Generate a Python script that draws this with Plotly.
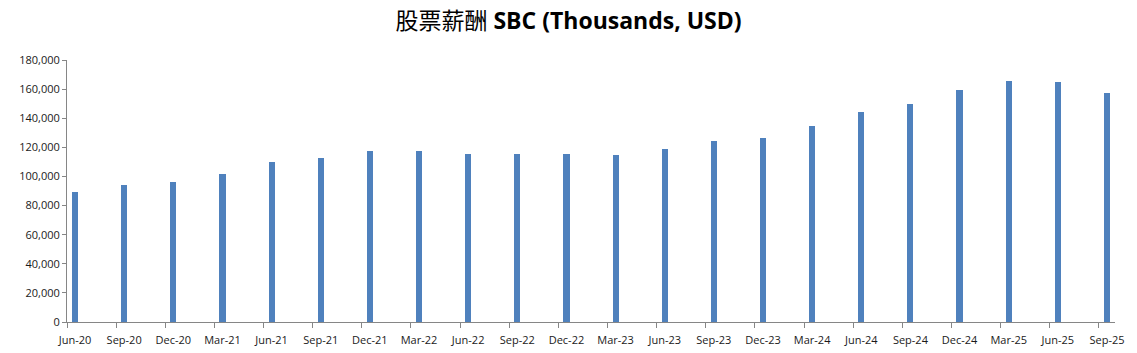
import plotly.graph_objects as go

categories = ["Jun-20", "Sep-20", "Dec-20", "Mar-21", "Jun-21", "Sep-21", "Dec-21", "Mar-22",
              "Jun-22", "Sep-22", "Dec-22", "Mar-23", "Jun-23", "Sep-23", "Dec-23", "Mar-24",
              "Jun-24", "Sep-24", "Dec-24", "Mar-25", "Jun-25", "Sep-25"]
sbc_values = [89300, 94100, 96200, 101600, 109900, 112600, 117400, 117400,
              115400, 115400, 115400, 114700, 118800, 124300, 126400, 134600,
              144200, 149900, 159300, 165500, 164800, 157300]
y_ticks = [0, 20000, 40000, 60000, 80000, 100000, 120000, 140000, 160000, 180000]

n = len(categories)
xs = list(range(n))
off = 0.163

fig = go.Figure()
fig.add_trace(go.Bar(x=xs, y=sbc_values, width=0.125, marker=dict(color="#4F81BD", line=dict(width=0)),
                     showlegend=False))
fig.add_trace(go.Scatter(x=[xs[0] - off], y=[0], xaxis="x2", mode="markers",
                         marker=dict(opacity=0), showlegend=False, hoverinfo="skip"))

axis_color = "#868686"
tick_font = dict(family="Open Sans, DejaVu Sans", size=11, color="#1a1a1a")
fig.update_layout(
    width=1137, height=353,
    margin=dict(l=67, r=22, t=60, b=31),
    paper_bgcolor="white", plot_bgcolor="white",
    title=dict(
        text="<span style='font-family:\"Noto Sans CJK SC\";font-weight:normal'>股票薪酬</span> <b>SBC (Thousands, USD)</b>",
        x=0.5, xanchor="center", y=0.94, yanchor="middle",
        font=dict(family="Open Sans, Noto Sans CJK SC", size=23, color="black"),
    ),
    xaxis=dict(
        range=[-off, n - 1 + off], tickmode="array", tickvals=xs, ticktext=categories,
        showline=True, linecolor=axis_color, linewidth=1, ticks="", showgrid=False, zeroline=False,
        tickfont=tick_font, ticklabelstandoff=8, automargin=False,
    ),
    xaxis2=dict(
        range=[-off, n - 1 + off], overlaying="x", anchor="y", side="bottom",
        tickmode="array", tickvals=[x - off for x in xs], ticktext=[""] * n,
        ticks="outside", ticklen=5, tickcolor=axis_color, showgrid=False, zeroline=False,
        showline=False, automargin=False,
    ),
    yaxis=dict(
        range=[0, 180000], tickmode="array", tickvals=y_ticks, tickformat=",",
        showline=True, linecolor=axis_color, linewidth=1, ticks="outside", ticklen=4,
        tickcolor=axis_color, showgrid=False, zeroline=False,
        tickfont=tick_font, automargin=False,
    ),
    bargap=0,
)

fig.write_html("out.html")
